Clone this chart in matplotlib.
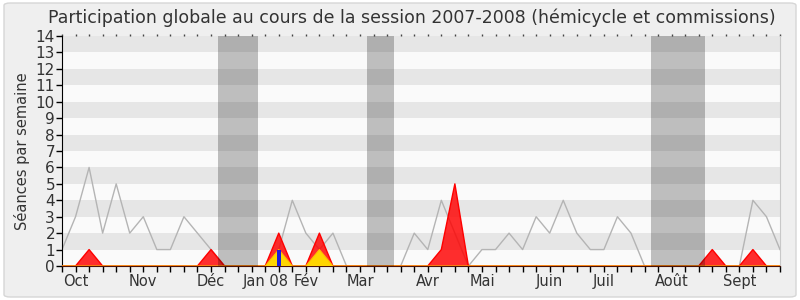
import matplotlib.pyplot as plt
from matplotlib.patches import FancyBboxPatch
import numpy as np

# weeks of the session (0 = last week of Sept 2007)
weeks = list(range(54))

# grey line: participation per week
participation = [1, 3, 6, 2, 5, 2, 3, 1, 1, 3, 2, 1, 0, 0, 0, 0, 1, 4, 2, 1,
                 2, 0, 0, 0, 0, 0, 2, 1, 4, 2, 0, 1, 1, 2, 1, 3, 2, 4, 2, 1,
                 1, 3, 2, 0, 0, 0, 0, 0, 0, 0, 0, 4, 3, 1]
# red area: hemicycle presence
hemicycle = [0] * 54
for w, v in [(2, 1), (11, 1), (16, 2), (19, 2), (28, 1), (29, 5), (48, 1), (51, 1)]:
    hemicycle[w] = v
# yellow area: commissions
commission = [0] * 54
commission[16] = 1
commission[19] = 1
# green line: interventions
interventions = [0] * 54
# blue bars: questions
questions = [0] * 54
questions[16] = 1

# holidays (week ranges)
vacances = [(11.5, 14.5), (22.5, 24.5), (43.5, 47.5)]

month_pos = [1, 6, 11, 15, 18, 22, 27, 31, 36, 40, 45, 50]
month_labels = ['Oct', 'Nov', 'Déc', 'Jan 08', 'Fév', 'Mar', 'Avr', 'Mai', 'Juin', 'Juil', 'Août', 'Sept']

fig = plt.figure(figsize=(8, 3), dpi=100, facecolor='white')
bg = FancyBboxPatch((4 / 800, 3 / 300), 792 / 800, 294 / 300,
                    boxstyle='round,pad=0,rounding_size=0.008',
                    transform=fig.transFigure, facecolor='#EFEFEF',
                    edgecolor='#D6D6D6', lw=1, zorder=-10)
fig.patches.append(bg)

ax = fig.add_axes([62 / 800, 1 - 266 / 300, 718 / 800, 230 / 300])
ax.set_facecolor('#FAFAFA')

# stripes
for y in range(1, 14, 2):
    ax.axhspan(y, y + 1, color='#E6E6E6', lw=0, zorder=0)

x = np.array(weeks)
ax.plot(x, participation, color='#B4B4B4', lw=1, zorder=2)

ax.plot(x, interventions, color='#22AA22', lw=1, zorder=3)
ax.fill_between(x, 0, hemicycle, facecolor='#FF0000', alpha=0.82, lw=0, zorder=4)
ax.plot(x, hemicycle, color='#FF0000', lw=1, zorder=4)
ax.fill_between(x, 0, commission, facecolor='#FFD500', lw=0, zorder=5)
ax.plot(x, commission, color='#FFC000', lw=0.8, zorder=5)
q = [w for w in weeks if questions[w] > 0]
ax.bar(q, [questions[w] for w in q], width=0.3, color='#1E1EDC', zorder=6)

for a, b in vacances:
    ax.axvspan(a, b, color='black', alpha=0.24, lw=0, zorder=7)

ax.set_xlim(0, 53)
ax.set_ylim(0, 14)
ax.set_yticks(range(15))
ax.set_xticks(weeks, minor=True)
ax.set_xticks(month_pos)
ax.set_xticklabels(month_labels)
ax.tick_params(axis='x', which='both', length=4, width=1, color='black', pad=2,
               labelsize=10.5, labelcolor='#333333')
ax.tick_params(axis='y', length=4, width=1, pad=1, labelsize=11, labelcolor='#333333')

# tiny tick dots along the top edge
top = ax.secondary_xaxis('top')
top.set_xticks(weeks)
top.tick_params(length=1.5, width=1, color='#444444', labeltop=False)
top.spines['top'].set_visible(False)

ax.spines['top'].set_visible(False)
ax.spines['right'].set_color('#C8C8C8')
ax.spines['left'].set_color('black')
ax.spines['bottom'].set_color('#4A1208')

ax.set_ylabel('Séances par semaine', fontsize=10.5, color='#333333', labelpad=4)
fig.text(412 / 800, 1 - 18 / 300, 'Participation globale au cours de la session 2007-2008 (hémicycle et commissions)',
         ha='center', va='center', fontsize=12.5, color='#333333')

plt.savefig('out.png', dpi=100, facecolor=fig.get_facecolor())
